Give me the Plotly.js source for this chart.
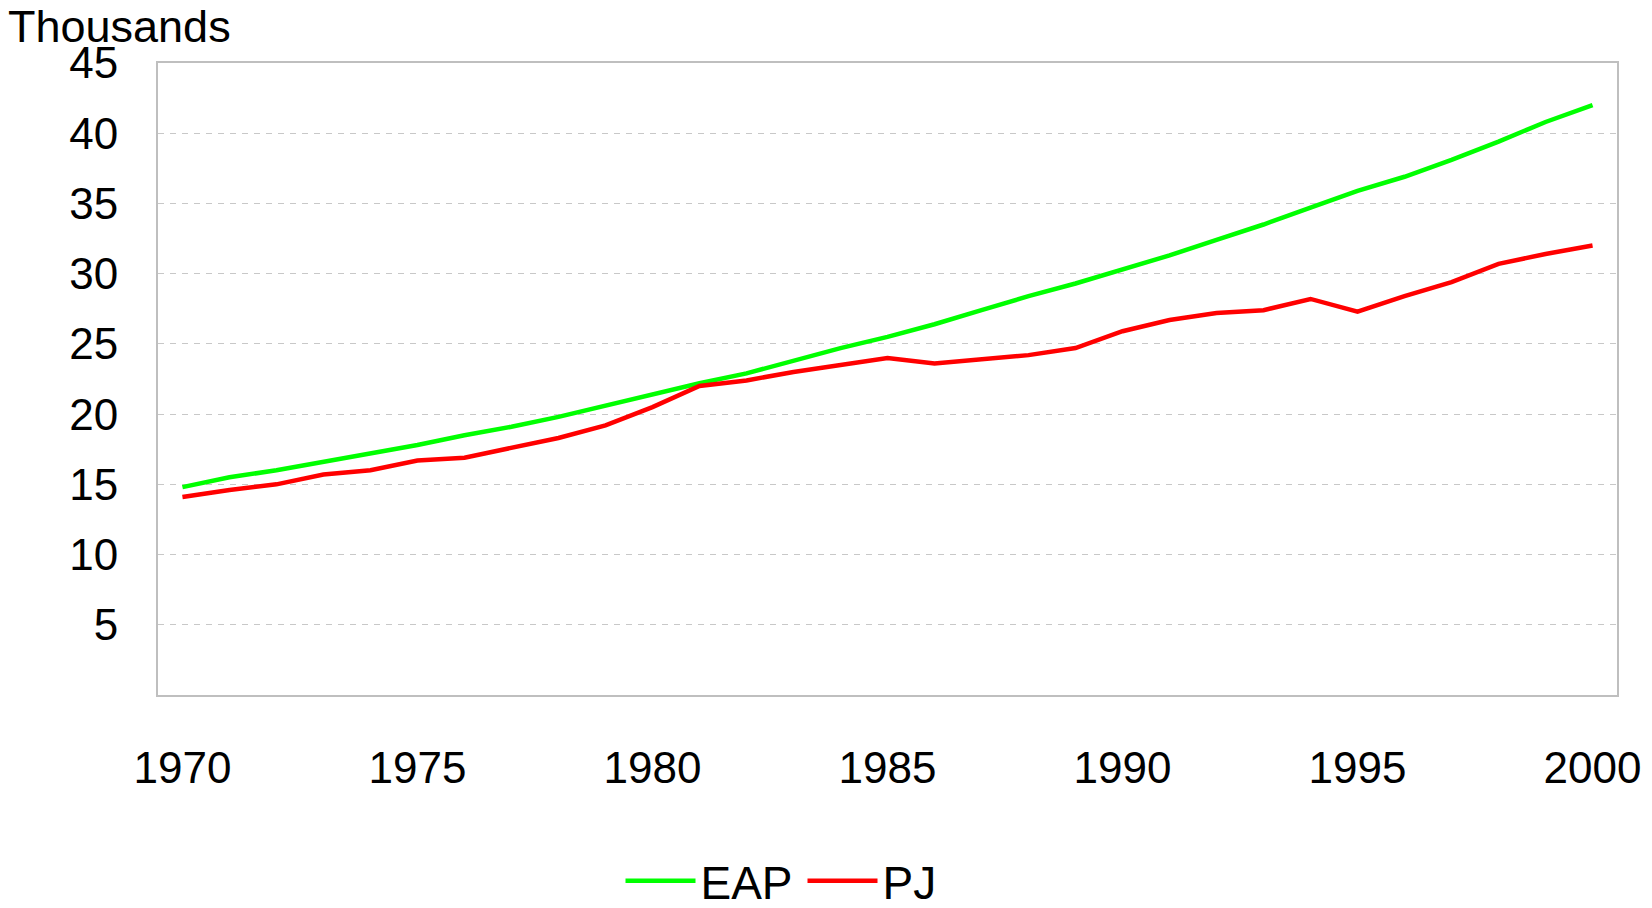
<!DOCTYPE html>
<html>
<head>
<meta charset="utf-8">
<script src="https://cdn.plot.ly/plotly-3.0.1.min.js"></script>
<style>html,body{margin:0;padding:0;background:#fff;}#chart{width:1652px;height:908px;}</style>
</head>
<body>
<div id="chart"></div>
<script>
const years = [1970,1971,1972,1973,1974,1975,1976,1977,1978,1979,1980,1981,1982,1983,1984,1985,1986,1987,1988,1989,1990,1991,1992,1993,1994,1995,1996,1997,1998,1999,2000];
const eap = [14.8,15.5,16.0,16.6,17.2,17.8,18.5,19.1,19.8,20.6,21.4,22.2,22.9,23.8,24.7,25.5,26.4,27.4,28.4,29.3,30.3,31.3,32.4,33.5,34.7,35.9,36.9,38.1,39.4,40.8,42.0];
const pj = [14.1,14.6,15.0,15.7,16.0,16.7,16.9,17.6,18.3,19.2,20.5,22.0,22.4,23.0,23.5,24.0,23.6,23.9,24.2,24.7,25.9,26.7,27.2,27.4,28.2,27.3,28.4,29.4,30.7,31.4,32.0];
const xTicks = [1970,1975,1980,1985,1990,1995,2000];
const yTicks = [5,10,15,20,25,30,35,40,45];
const seriesNames = ["EAP","PJ"];
const unitLabel = "Thousands";

const font = "Liberation Sans, Arial, sans-serif";
const traces = [
  {x: years, y: eap, name: seriesNames[0], type: "scatter", mode: "lines",
   line: {color: "#00ff00", width: 4.5}},
  {x: years, y: pj, name: seriesNames[1], type: "scatter", mode: "lines",
   line: {color: "#ff0000", width: 4.5}}
];
const layout = {
  width: 1652, height: 908,
  margin: {l: 158, r: 35, t: 63, b: 213, pad: 0, autoexpand: false},
  paper_bgcolor: "#ffffff", plot_bgcolor: "#ffffff",
  font: {family: font, size: 44, color: "#000"},
  showlegend: true,
  legend: {orientation: "h", x: 0.317, xanchor: "left", y: -0.294, yanchor: "middle",
           font: {family: font, size: 46, color: "#000"}, itemwidth: 70, tracegroupgap: 0,
           entrywidth: 97, entrywidthmode: "pixels"},
  xaxis: {range: [1969.48, 2000.52], tickvals: xTicks, ticktext: xTicks.map(String),
          showgrid: false, zeroline: false, showline: true, mirror: true,
          linecolor: "#bfbfbf", linewidth: 2, ticks: "", ticklabelstandoff: 33,
          tickfont: {family: font, size: 44, color: "#000"}},
  yaxis: {range: [0, 45], tickvals: yTicks, ticktext: yTicks.map(String),
          showgrid: true, gridcolor: "#c8c8c8", gridwidth: 1, griddash: "6px,6px",
          zeroline: false, showline: true, mirror: true,
          linecolor: "#bfbfbf", linewidth: 2, ticks: "", ticklabelstandoff: 29,
          tickfont: {family: font, size: 44, color: "#000"}},
  annotations: [{text: unitLabel, xref: "paper", yref: "paper",
                 x: -0.104, y: 1.058, xanchor: "left", yanchor: "middle",
                 showarrow: false, font: {family: font, size: 45, color: "#000"}}]
};
Plotly.newPlot("chart", traces, layout, {displayModeBar: false, staticPlot: true});
</script>
</body>
</html>
